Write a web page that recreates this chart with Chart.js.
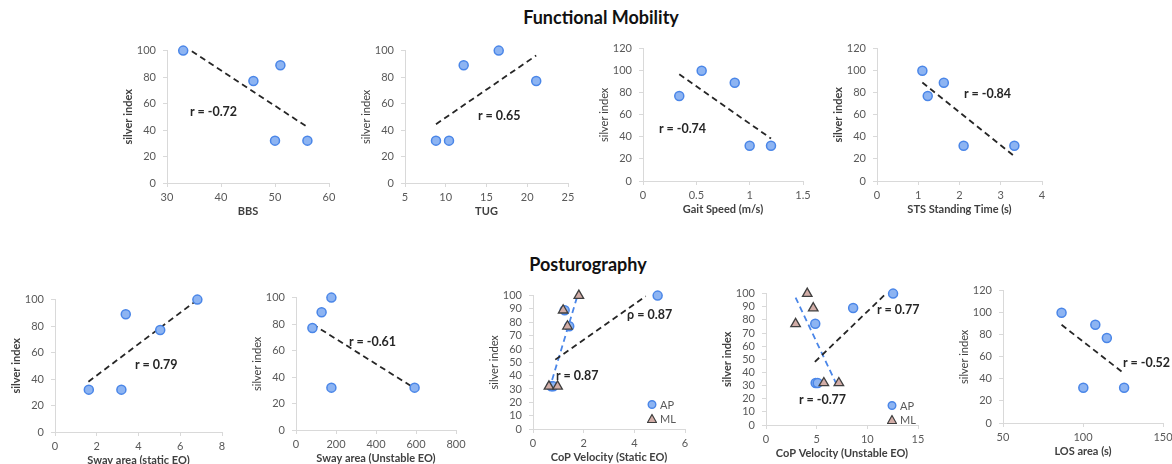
<!DOCTYPE html>
<html>
<head>
<meta charset="utf-8">
<script src="https://cdn.jsdelivr.net/npm/chart.js@4.4.0/dist/chart.umd.min.js"></script>
<style>
  html, body { margin: 0; padding: 0; background: #fff; overflow: hidden; width: 1172px; height: 464px; }
  body { position: relative; font-family: Lato, "Open Sans", sans-serif; }
  .panel { position: absolute; }
  .title { position: absolute; font-weight: bold; font-size: 18px; color: #111; white-space: nowrap; transform: translate(-50%, -50%); }
  .rlab { position: absolute; font-weight: bold; font-size: 12.5px; color: #262626; white-space: nowrap; transform: translateY(-50%); }
  .leg { position: absolute; font-size: 11px; color: #595959; white-space: nowrap; display: flex; align-items: center; gap: 3px; transform: translateY(-50%); }
</style>
</head>
<body>
<div class="title" style="left:601px;top:17px">Functional Mobility</div>
<div class="title" style="left:588px;top:264px">Posturography</div>

<script>
// subjects ordered by silver index
const silverIndex = [100, 89, 77, 32, 32];

// functional mobility measures
const bbs = [33, 51, 46, 50, 56];
const tug = [16.5, 12.2, 21.1, 8.8, 10.4];
const gaitSpeed = [0.55, 0.86, 0.34, 1.0, 1.2];
const stsTime = [1.1, 1.62, 1.23, 2.1, 3.33];

// posturography measures
const swayStatic = [6.82, 3.39, 5.04, 1.62, 3.18];
const swayUnstable = [177, 128, 82, 177, 593];
const copStaticAP = [4.92, 1.25, 1.43, 0.72, 0.8];
const copStaticML = [1.81, 1.19, 1.36, 0.63, 0.97];
const copUnstableAP = [12.54, 8.6, 4.86, 4.9, 5.1];
const copUnstableML = [4.07, 4.66, 2.92, 5.71, 7.19];
const losArea = [86.6, 107.7, 114.9, 100.2, 125.7];

// trend line end points [x, y]
const bbsTrend = [[34.6, 99.5], [55.9, 42.5]];
const tugTrend = [[8.8, 44.4], [21.1, 96.3]];
const gaitTrend = [[0.34, 96.7], [1.2, 38.5]];
const stsTrend = [[1.1, 89.3], [3.33, 22.4]];
const swayStaticTrend = [[1.6, 38], [6.75, 99]];
const swayUnstableTrend = [[82, 80], [593, 31.5]];
const copStaticAPTrend = [[0.88, 52], [4.45, 99.5]];
const copStaticMLTrend = [[0.64, 29.6], [1.73, 98.3]];
const copUnstableAPTrend = [[4.82, 48], [11.75, 99.3]];
const copUnstableMLTrend = [[2.92, 97], [7.02, 30]];
const losTrend = [[86.6, 89], [124.7, 46]];

// tick labels
const ticks100 = [0, 20, 40, 60, 80, 100];
const ticks120 = [0, 20, 40, 60, 80, 100, 120];
const ticks100by10 = [0, 10, 20, 30, 40, 50, 60, 70, 80, 90, 100];
const bbsTicks = [30, 40, 50, 60];
const tugTicks = [5, 10, 15, 20, 25];
const gaitTicks = [0, 0.5, 1, 1.5];
const stsTicks = [0, 1, 2, 3, 4];
const swayStaticTicks = [0, 2, 4, 6, 8];
const swayUnstableTicks = [0, 200, 400, 600, 800];
const copStaticTicks = [0, 2, 4, 6];
const copUnstableTicks = [0, 5, 10, 15];
const losTicks = [50, 100, 150];

const blueFill = '#8DB4F2', blueEdge = '#4A86E8';
const triFill = '#D2ADA7', triEdge = '#3F3F3F';
const grey = '#d9d9d9';

const pts = (xs) => xs.map((x, i) => ({ x: x, y: silverIndex[i] }));
const seg = (s) => s.map(([x, y]) => ({ x: x, y: y }));

const circles = (xs) => ({
  data: pts(xs), order: 1, clip: false,
  pointStyle: 'circle', pointRadius: 4.5, pointBackgroundColor: blueFill,
  pointBorderColor: blueEdge, pointBorderWidth: 1.5,
});
const triangles = (xs) => ({
  data: pts(xs), order: 0, clip: false,
  pointStyle: 'triangle', pointRadius: 5.5, pointBackgroundColor: triFill,
  pointBorderColor: triEdge, pointBorderWidth: 1.3,
});
const trend = (s, color) => ({
  data: seg(s), order: 2, clip: false, showLine: true, pointRadius: 0,
  borderColor: color || '#262626', borderWidth: 1.8, borderDash: [6, 4],
});

function addText(cls, text, left, top) {
  const d = document.createElement('div');
  d.className = cls;
  d.textContent = text;
  d.style.left = left + 'px';
  d.style.top = top + 'px';
  document.body.appendChild(d);
}

function addLegend(left, top) {
  const items = [
    ['AP', '<circle cx="5" cy="5" r="3.8" fill="' + blueFill + '" stroke="' + blueEdge + '" stroke-width="1.4"/>'],
    ['ML', '<polygon points="5,1 9.5,9 0.5,9" fill="' + triFill + '" stroke="' + triEdge + '" stroke-width="1.2"/>'],
  ];
  items.forEach(([label, shape], i) => {
    const d = document.createElement('div');
    d.className = 'leg';
    d.style.left = left + 'px';
    d.style.top = (top + i * 14) + 'px';
    d.innerHTML = '<svg width="10" height="10">' + shape + '</svg><span>' + label + '</span>';
    document.body.appendChild(d);
  });
}

function panel(p) {
  const { L, T, R, B } = p.box;
  const padT = 12, padR = 14, yw = 45, xh = 35;
  const wrap = document.createElement('div');
  wrap.className = 'panel';
  wrap.style.left = (L - yw) + 'px';
  wrap.style.top = (T - padT) + 'px';
  const cv = document.createElement('canvas');
  cv.width = R - L + yw + padR;
  cv.height = B - T + padT + xh;
  wrap.appendChild(cv);
  document.body.appendChild(wrap);

  const axis = (tk, title, bold, isX) => ({
    type: 'linear',
    min: tk[0],
    max: tk[tk.length - 1],
    afterBuildTicks: (s) => { s.ticks = tk.map((v) => ({ value: v })); },
    afterFit: (s) => { if (isX) s.height = xh; else s.width = yw; },
    ticks: { color: '#595959', font: { family: 'Lato', size: 11 }, padding: isX ? 4 : 7,
             autoSkip: false, maxRotation: 0, callback: (v) => String(v) },
    grid: { drawOnChartArea: false, drawTicks: true, tickLength: 4, color: grey },
    border: { display: true, color: grey },
    title: { display: true, text: title, color: '#404040', padding: 0,
             font: { family: 'Lato', size: 11, weight: bold ? 'bold' : 'normal' } },
  });

  new Chart(cv, {
    type: 'scatter',
    data: { datasets: p.datasets },
    options: {
      responsive: false,
      animation: false,
      layout: { padding: { top: padT, right: padR, left: 0, bottom: 0 } },
      plugins: { legend: { display: false }, tooltip: { enabled: false } },
      scales: {
        x: axis(p.xTicks, p.xTitle, true, true),
        y: axis(p.yTicks, 'silver index', p.yBold, false),
      },
    },
  });
}

panel({ box: { L: 167, T: 49, R: 329, B: 183 }, xTicks: bbsTicks, yTicks: ticks100,
  xTitle: 'BBS', yBold: true, datasets: [circles(bbs), trend(bbsTrend)] });
panel({ box: { L: 405, T: 49, R: 568, B: 183 }, xTicks: tugTicks, yTicks: ticks100,
  xTitle: 'TUG', yBold: false, datasets: [circles(tug), trend(tugTrend)] });
panel({ box: { L: 643, T: 47, R: 803, B: 181 }, xTicks: gaitTicks, yTicks: ticks120,
  xTitle: 'Gait Speed (m/s)', yBold: false, datasets: [circles(gaitSpeed), trend(gaitTrend)] });
panel({ box: { L: 877, T: 47, R: 1042, B: 181 }, xTicks: stsTicks, yTicks: ticks120,
  xTitle: 'STS Standing Time (s)', yBold: true, datasets: [circles(stsTime), trend(stsTrend)] });

panel({ box: { L: 55, T: 298, R: 222, B: 432 }, xTicks: swayStaticTicks, yTicks: ticks100,
  xTitle: 'Sway area (static EO)', yBold: true, datasets: [circles(swayStatic), trend(swayStaticTrend)] });
panel({ box: { L: 296, T: 296, R: 456, B: 430 }, xTicks: swayUnstableTicks, yTicks: ticks100,
  xTitle: 'Sway area (Unstable EO)', yBold: false, datasets: [circles(swayUnstable), trend(swayUnstableTrend)] });
panel({ box: { L: 533, T: 294, R: 685, B: 429 }, xTicks: copStaticTicks, yTicks: ticks100by10,
  xTitle: 'CoP Velocity (Static EO)', yBold: false,
  datasets: [triangles(copStaticML), circles(copStaticAP), trend(copStaticAPTrend), trend(copStaticMLTrend, blueEdge)] });
panel({ box: { L: 766, T: 292, R: 918, B: 425 }, xTicks: copUnstableTicks, yTicks: ticks100by10,
  xTitle: 'CoP Velocity (Unstable EO)', yBold: true,
  datasets: [triangles(copUnstableML), circles(copUnstableAP), trend(copUnstableAPTrend), trend(copUnstableMLTrend, blueEdge)] });
panel({ box: { L: 1003, T: 289, R: 1163, B: 423 }, xTicks: losTicks, yTicks: ticks120,
  xTitle: 'LOS area (s)', yBold: false, datasets: [circles(losArea), trend(losTrend)] });

addText('rlab', 'r = -0.72', 190, 111);
addText('rlab', 'r = 0.65', 478, 115);
addText('rlab', 'r = -0.74', 659, 128);
addText('rlab', 'r = -0.84', 964, 93);
addText('rlab', 'r = 0.79', 135, 364);
addText('rlab', 'r = -0.61', 349, 341);
addText('rlab', 'ρ = 0.87', 627, 314);
addText('rlab', 'r = 0.87', 556, 375);
addText('rlab', 'r = 0.77', 877, 309);
addText('rlab', 'r = -0.77', 799, 399);
addText('rlab', 'r = -0.52', 1123, 362);

addLegend(647, 404);
addLegend(887, 405);
</script>
</body>
</html>
